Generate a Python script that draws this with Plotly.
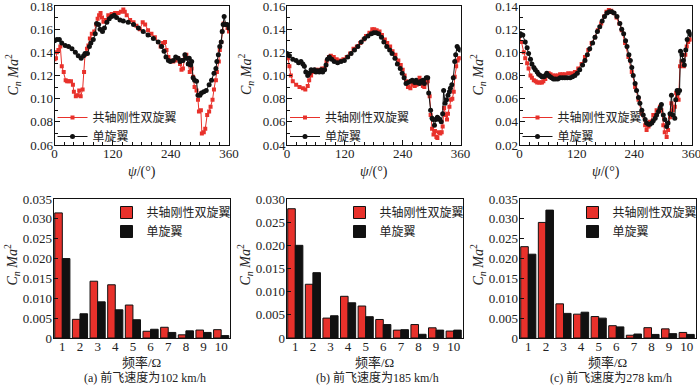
import plotly.graph_objects as go

# ---------------- data: top row (time history) ----------------
psi_a_coax = [0, 3, 5, 8, 12, 15, 19, 23, 26, 29, 34, 38, 40, 44, 47, 51, 54, 58, 61, 63, 67, 70, 73, 77, 82, 86, 89, 92, 95, 98, 101, 106, 111, 118, 125, 132, 137, 142, 145, 149, 156, 163, 169, 176, 182, 187, 193, 200, 207, 214, 219, 224, 228, 231, 235, 239, 245, 250, 255, 259, 262, 265, 269, 272, 276, 279, 283, 286, 289, 293, 296, 298, 302, 304, 308, 311, 315, 319, 322, 326, 329, 333, 335, 339, 341, 344, 346, 349, 353, 357, 360]
cn_a_coax = [0.134, 0.135, 0.140, 0.142, 0.145, 0.128, 0.123, 0.116, 0.115, 0.115, 0.115, 0.112, 0.106, 0.102, 0.103, 0.107, 0.102, 0.108, 0.123, 0.138, 0.143, 0.146, 0.152, 0.156, 0.158, 0.164, 0.169, 0.172, 0.174, 0.170, 0.1665, 0.168, 0.172, 0.173, 0.174, 0.174, 0.175, 0.177, 0.175, 0.172, 0.168, 0.166, 0.163, 0.160, 0.166, 0.164, 0.159, 0.156, 0.153, 0.149, 0.145, 0.148, 0.149, 0.142, 0.136, 0.133, 0.132, 0.133, 0.135, 0.130, 0.125, 0.126, 0.136, 0.138, 0.130, 0.123, 0.126, 0.119, 0.110, 0.107, 0.099, 0.089, 0.090, 0.070, 0.071, 0.074, 0.086, 0.089, 0.093, 0.099, 0.108, 0.116, 0.123, 0.132, 0.142, 0.149, 0.158, 0.165, 0.164, 0.161, 0.158]
psi_a_single = [0, 5, 10, 15, 22, 29, 36, 43, 49, 55, 60, 63, 68, 72, 75, 80, 84, 87, 91, 94, 99, 103, 108, 113, 118, 123, 128, 135, 142, 152, 163, 173, 183, 193, 204, 214, 221, 226, 230, 235, 239, 245, 250, 255, 259, 262, 265, 269, 272, 276, 278, 281, 283, 286, 289, 293, 296, 300, 303, 308, 313, 319, 324, 329, 333, 335, 338, 341, 344, 346, 348, 350, 353, 356, 360]
cn_a_single = [0.150, 0.151, 0.151, 0.148, 0.146, 0.145, 0.143, 0.140, 0.137, 0.135, 0.137, 0.139, 0.139, 0.145, 0.148, 0.151, 0.156, 0.165, 0.164, 0.160, 0.158, 0.161, 0.166, 0.169, 0.171, 0.172, 0.170, 0.168, 0.167, 0.166, 0.164, 0.161, 0.158, 0.155, 0.152, 0.149, 0.145, 0.141, 0.136, 0.133, 0.132, 0.133, 0.136, 0.135, 0.132, 0.133, 0.133, 0.138, 0.135, 0.130, 0.135, 0.129, 0.132, 0.118, 0.116, 0.115, 0.103, 0.103, 0.105, 0.106, 0.107, 0.112, 0.116, 0.122, 0.126, 0.132, 0.138, 0.145, 0.149, 0.158, 0.164, 0.171, 0.164, 0.164, 0.161]

psi_b_coax = [0, 2, 5, 8, 12, 19, 26, 33, 38, 43, 46, 50, 53, 59, 66, 73, 78, 82, 87, 91, 97, 103, 110, 117, 124, 131, 138, 145, 152, 159, 164, 171, 177, 181, 186, 192, 197, 203, 208, 214, 219, 225, 231, 236, 240, 244, 247, 251, 256, 260, 265, 269, 272, 275, 278, 282, 285, 289, 292, 296, 298, 301, 304, 307, 310, 312, 315, 318, 321, 323, 326, 329, 332, 334, 337, 340, 343, 346, 348, 351, 354, 357, 360]
cn_b_coax = [0.117, 0.115, 0.108, 0.100, 0.095, 0.092, 0.090, 0.089, 0.088, 0.091, 0.096, 0.100, 0.103, 0.105, 0.105, 0.106, 0.106, 0.112, 0.116, 0.117, 0.116, 0.114, 0.113, 0.114, 0.116, 0.119, 0.123, 0.125, 0.128, 0.131, 0.134, 0.137, 0.140, 0.140, 0.139, 0.138, 0.135, 0.131, 0.128, 0.125, 0.121, 0.118, 0.113, 0.109, 0.105, 0.100, 0.095, 0.090, 0.089, 0.092, 0.091, 0.092, 0.095, 0.098, 0.093, 0.091, 0.090, 0.094, 0.095, 0.082, 0.066, 0.054, 0.049, 0.052, 0.047, 0.046, 0.051, 0.050, 0.051, 0.056, 0.072, 0.066, 0.062, 0.067, 0.073, 0.079, 0.080, 0.086, 0.099, 0.108, 0.113, 0.115, 0.115]
psi_b_single = [0, 5, 12, 19, 24, 29, 33, 36, 39, 43, 46, 50, 53, 57, 60, 64, 67, 71, 74, 78, 81, 84, 88, 93, 98, 105, 112, 119, 126, 133, 140, 147, 154, 161, 168, 175, 180, 185, 190, 196, 201, 207, 213, 218, 224, 229, 235, 239, 243, 247, 251, 256, 260, 265, 268, 271, 275, 278, 282, 285, 289, 292, 294, 298, 301, 303, 306, 309, 312, 314, 317, 320, 323, 325, 328, 331, 334, 337, 339, 342, 345, 348, 350, 353, 356, 359]
cn_b_single = [0.119, 0.117, 0.114, 0.113, 0.111, 0.112, 0.110, 0.108, 0.103, 0.100, 0.102, 0.105, 0.104, 0.105, 0.103, 0.104, 0.103, 0.105, 0.103, 0.105, 0.109, 0.114, 0.116, 0.114, 0.112, 0.111, 0.112, 0.113, 0.116, 0.119, 0.122, 0.125, 0.129, 0.132, 0.134, 0.136, 0.137, 0.137, 0.136, 0.133, 0.129, 0.125, 0.122, 0.119, 0.115, 0.110, 0.106, 0.102, 0.098, 0.093, 0.094, 0.095, 0.096, 0.094, 0.096, 0.094, 0.093, 0.095, 0.096, 0.093, 0.098, 0.098, 0.085, 0.070, 0.063, 0.062, 0.057, 0.062, 0.064, 0.063, 0.062, 0.060, 0.067, 0.087, 0.076, 0.079, 0.083, 0.086, 0.089, 0.092, 0.098, 0.112, 0.118, 0.125, 0.123, 0.122]

psi_c_coax = [0, 4, 9, 12, 16, 19, 23, 26, 30, 34, 37, 41, 44, 47, 50, 54, 57, 61, 65, 70, 75, 80, 85, 90, 95, 102, 109, 116, 123, 130, 137, 144, 151, 158, 164, 171, 177, 182, 187, 192, 197, 203, 209, 214, 221, 228, 235, 242, 249, 256, 263, 266, 270, 273, 280, 287, 294, 297, 301, 304, 308, 311, 315, 318, 321, 325, 328, 330, 333, 336, 339, 342, 344, 347, 350, 353, 356, 359]
cn_c_coax = [0.114, 0.109, 0.100, 0.095, 0.0905, 0.086, 0.080, 0.078, 0.076, 0.075, 0.074, 0.074, 0.074, 0.074, 0.075, 0.077, 0.080, 0.082, 0.081, 0.080, 0.080, 0.080, 0.081, 0.081, 0.081, 0.082, 0.082, 0.083, 0.086, 0.090, 0.096, 0.102, 0.108, 0.113, 0.119, 0.125, 0.131, 0.135, 0.1365, 0.136, 0.134, 0.130, 0.125, 0.119, 0.108, 0.096, 0.083, 0.070, 0.059, 0.047, 0.037, 0.033, 0.036, 0.040, 0.046, 0.050, 0.053, 0.050, 0.037, 0.031, 0.027, 0.033, 0.044, 0.056, 0.050, 0.053, 0.065, 0.062, 0.059, 0.088, 0.092, 0.092, 0.088, 0.098, 0.105, 0.109, 0.111, 0.111]
psi_c_single = [0, 2, 7, 12, 16, 19, 23, 26, 30, 33, 37, 40, 44, 47, 51, 54, 57, 61, 64, 67, 71, 75, 80, 85, 90, 95, 100, 106, 111, 116, 121, 126, 132, 137, 142, 147, 153, 158, 163, 168, 173, 178, 183, 188, 193, 198, 204, 210, 214, 218, 222, 225, 229, 232, 235, 238, 242, 245, 249, 252, 256, 259, 263, 266, 270, 273, 277, 280, 284, 287, 291, 294, 297, 301, 304, 308, 311, 315, 318, 321, 325, 327, 330, 332, 335, 337, 340, 343, 345, 348, 351, 354, 357, 359]
cn_c_single = [0.114, 0.116, 0.115, 0.109, 0.104, 0.099, 0.094, 0.090, 0.087, 0.085, 0.083, 0.081, 0.080, 0.079, 0.079, 0.080, 0.082, 0.080, 0.079, 0.078, 0.077, 0.077, 0.077, 0.078, 0.078, 0.078, 0.078, 0.078, 0.079, 0.080, 0.082, 0.085, 0.089, 0.093, 0.098, 0.103, 0.108, 0.113, 0.118, 0.122, 0.127, 0.131, 0.134, 0.135, 0.135, 0.134, 0.131, 0.125, 0.120, 0.116, 0.110, 0.105, 0.098, 0.093, 0.087, 0.080, 0.073, 0.067, 0.061, 0.056, 0.050, 0.046, 0.042, 0.039, 0.038, 0.038, 0.039, 0.041, 0.043, 0.046, 0.049, 0.052, 0.055, 0.046, 0.042, 0.036, 0.039, 0.047, 0.063, 0.046, 0.043, 0.059, 0.067, 0.065, 0.067, 0.101, 0.098, 0.093, 0.089, 0.102, 0.111, 0.118, 0.116, 0.115]

# ---------------- data: bottom row (harmonic spectra) ----------------
freq = [1, 2, 3, 4, 5, 6, 7, 8, 9, 10]
amp_a_coax = [0.0315, 0.0047, 0.0143, 0.0134, 0.0083, 0.0017, 0.0027, 0.0008, 0.0020, 0.0021]
amp_a_single = [0.0200, 0.0061, 0.0091, 0.0071, 0.0046, 0.0022, 0.0014, 0.0018, 0.0014, 0.0006]
amp_b_coax = [0.0279, 0.0116, 0.0043, 0.0090, 0.0069, 0.0040, 0.0017, 0.0029, 0.0022, 0.0015]
amp_b_single = [0.0200, 0.0141, 0.0048, 0.0076, 0.0046, 0.0029, 0.0018, 0.0008, 0.0017, 0.0017]
amp_c_coax = [0.0230, 0.0291, 0.0086, 0.0060, 0.0054, 0.0031, 0.0007, 0.0026, 0.0023, 0.0014]
amp_c_single = [0.0211, 0.0322, 0.0062, 0.0065, 0.0050, 0.0028, 0.0010, 0.0009, 0.0011, 0.0009]

name_coax = "共轴刚性双旋翼"
name_single = "单旋翼"
captions = ["(a) 前飞速度为102 km/h", "(b) 前飞速度为185 km/h", "(c) 前飞速度为278 km/h"]
top_ranges = [[0.06, 0.18], [0.04, 0.16], [0.02, 0.14]]
bot_ranges = [[0, 0.035], [0, 0.030], [0, 0.035]]

# ---------------- layout geometry (pixels) ----------------
W, H = 700, 385
FONT = "Liberation Serif, Times New Roman, Noto Sans CJK SC, serif"
RED = "#e8312b"
BLK = "#111111"

def px(x):
    return x / W

def py(y):
    return 1 - y / H

top_x = [(54.5, 229), (287, 460.5), (519.5, 691.5)]
bot_x = [(53.5, 230), (286.5, 462.5), (519.5, 695.5)]
top_y = (6, 145)
bot_y = (199, 338)

fig = go.Figure()

top_series = [
    (psi_a_coax, cn_a_coax, psi_a_single, cn_a_single),
    (psi_b_coax, cn_b_coax, psi_b_single, cn_b_single),
    (psi_c_coax, cn_c_coax, psi_c_single, cn_c_single),
]
bot_series = [
    (amp_a_coax, amp_a_single),
    (amp_b_coax, amp_b_single),
    (amp_c_coax, amp_c_single),
]

layout = {}
annotations = []
TICKFONT = dict(family=FONT, size=13, color="#222")
LEGFONT = dict(family=FONT, size=12, color="#222")


def note(text, x, y, size, angle=0):
    annotations.append(dict(text=text, x=px(x), y=py(y), xref="paper", yref="paper",
                            xanchor="center", yanchor="middle", textangle=angle,
                            showarrow=False, font=dict(family=FONT, size=size, color="#222")))


for i in range(3):
    xa = "x" if i == 0 else f"x{i+1}"
    ya = "y" if i == 0 else f"y{i+1}"
    lg = "legend" if i == 0 else f"legend{i+1}"
    pc, vc, ps, vs = top_series[i]
    fig.add_trace(go.Scatter(x=pc, y=vc, name=name_coax, mode="lines+markers",
                             line=dict(color=RED, width=1),
                             marker=dict(symbol="square", size=4, color=RED),
                             xaxis=xa, yaxis=ya, legend=lg, legendrank=1))
    fig.add_trace(go.Scatter(x=ps, y=vs, name=name_single, mode="lines+markers",
                             line=dict(color=BLK, width=1),
                             marker=dict(symbol="circle", size=5, color=BLK),
                             xaxis=xa, yaxis=ya, legend=lg, legendrank=2))

    key_x = "xaxis" if i == 0 else f"xaxis{i+1}"
    key_y = "yaxis" if i == 0 else f"yaxis{i+1}"
    x0, x1 = top_x[i]
    layout[key_x] = dict(domain=[px(x0), px(x1)], range=[0, 360], anchor=ya, automargin=False,
                         tickvals=[0, 120, 240, 360], ticks="inside", ticklen=5,
                         minor=dict(dtick=20, ticks="inside", ticklen=3, tickcolor=BLK),
                         showline=True, linecolor=BLK, linewidth=1, mirror=True,
                         showgrid=False, zeroline=False, tickcolor=BLK, tickfont=TICKFONT,
                         ticklabelstandoff=-4, ticklabeloverflow="allow")
    lo, hi = top_ranges[i]
    layout[key_y] = dict(domain=[py(top_y[1]), py(top_y[0])], range=[lo, hi], anchor=xa, automargin=False,
                         dtick=0.02, tick0=0, tickformat=".2f", ticks="inside", ticklen=5,
                         minor=dict(dtick=0.01, ticks="inside", ticklen=3, tickcolor=BLK),
                         showline=True, linecolor=BLK, linewidth=1, mirror=True,
                         showgrid=False, zeroline=False, tickcolor=BLK, tickfont=TICKFONT,
                         ticklabelstandoff=-2, ticklabeloverflow="allow")
    layout[lg] = dict(x=px(x0 - 2), y=py(103), xanchor="left", yanchor="top",
                      bgcolor="rgba(0,0,0,0)", font=LEGFONT,
                      itemwidth=30, tracegroupgap=0, traceorder="normal")
    note("<i>C</i><sub><i>n</i></sub> <i>Ma</i><sup>2</sup>", x0 - 41, 75, 14, -90)
    note("<i>ψ</i>/(°)", (x0 + x1) / 2, 172, 14)

for i in range(3):
    j = i + 4
    xa, ya = f"x{j}", f"y{j}"
    lg = f"legend{j}"
    vc, vs = bot_series[i]
    fig.add_trace(go.Bar(x=freq, y=vc, name=name_coax, marker=dict(color=RED, line=dict(color=BLK, width=1)),
                         xaxis=xa, yaxis=ya, legend=lg, offsetgroup="c"))
    fig.add_trace(go.Bar(x=freq, y=vs, name=name_single, marker=dict(color=BLK, line=dict(color=BLK, width=1)),
                         xaxis=xa, yaxis=ya, legend=lg, offsetgroup="s"))
    x0, x1 = bot_x[i]
    lo, hi = bot_ranges[i]
    tv = [k * 0.005 for k in range(int(round(hi / 0.005)) + 1)]
    tt = ["0"] + [f"{v:.3f}" for v in tv[1:]]
    layout[f"xaxis{j}"] = dict(domain=[px(x0), px(x1)], range=[0.5, 10.5], anchor=ya, automargin=False,
                               tickvals=freq, ticks="",
                               showline=True, linecolor=BLK, linewidth=1, mirror=True,
                               showgrid=False, zeroline=False, tickfont=TICKFONT,
                               ticklabelstandoff=-4, ticklabeloverflow="allow")
    layout[f"yaxis{j}"] = dict(domain=[py(bot_y[1]), py(bot_y[0])], range=[lo, hi], anchor=xa, automargin=False,
                               tickvals=tv, ticktext=tt, ticks="inside", ticklen=4,
                               showline=True, linecolor=BLK, linewidth=1, mirror=True,
                               showgrid=False, zeroline=False, tickcolor=BLK, tickfont=TICKFONT,
                               ticklabelstandoff=-2, ticklabeloverflow="allow")
    layout[lg] = dict(x=px(x0 + 53), y=py(198), xanchor="left", yanchor="top",
                      bgcolor="rgba(0,0,0,0)", font=LEGFONT,
                      itemwidth=30, tracegroupgap=0, traceorder="normal")
    note("<i>C</i><sub><i>n</i></sub> <i>Ma</i><sup>2</sup>", x0 - 41, 265, 14, -90)
    note("频率/Ω", (x0 + x1) / 2, 362, 13)
    note(captions[i], (x0 + x1) / 2 + 3, 377, 12)

fig.update_layout(**layout)
fig.update_layout(width=W, height=H, margin=dict(l=0, r=0, t=0, b=0, autoexpand=False),
                  paper_bgcolor="white", plot_bgcolor="white",
                  barmode="group", bargap=0.14, bargroupgap=0,
                  annotations=annotations, showlegend=True,
                  font=dict(family=FONT, size=12, color="#222"))

fig.write_html("out.html", config={"displayModeBar": False},
               post_script="document.body.style.margin='0';document.body.style.padding='0';")
